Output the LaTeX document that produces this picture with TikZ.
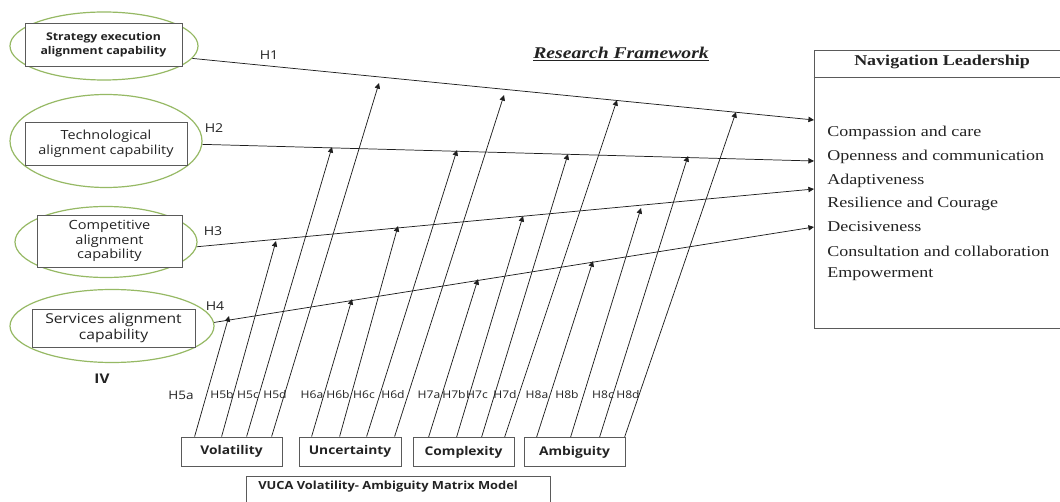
\documentclass[tikz,border=0pt]{standalone}
\usepackage{fontspec}
\setmainfont[FakeStretch=1.2]{Liberation Serif}
\newfontfamily\osans[FakeStretch=1.15]{Open Sans}
\usetikzlibrary{shapes.geometric,arrows.meta,calc}
\definecolor{ellgreen}{RGB}{150,185,100}
\definecolor{boxgray}{RGB}{90,90,90}
\definecolor{linec}{RGB}{30,30,30}
\definecolor{txt}{RGB}{35,35,35}
\begin{document}
\begin{tikzpicture}[x=0.75pt,y=-0.75pt,
  ell/.style={ellipse, draw=ellgreen, line width=0.9pt, inner sep=0pt},
  lbox/.style={rectangle, draw=boxgray, line width=0.6pt, fill=white, inner sep=0pt, align=center, text=txt},
  bbox/.style={rectangle, draw=boxgray, line width=0.6pt, fill=white, inner sep=0pt, minimum height=21.75pt, text=txt,
     font=\osans\bfseries\fontsize{9}{10}\selectfont},
  conn/.style={draw=linec, line width=0.55pt, -{Triangle[length=4.2pt,width=4pt]}},
  hlab/.style={text=txt, inner sep=0pt, font=\osans\fontsize{9.2}{10}\selectfont},
  slab/.style={text=txt, inner sep=0pt, font=\osans\fontsize{7.9}{9}\selectfont},
  item/.style={anchor=west, inner sep=0pt, text=txt, font=\fontsize{11.25}{13}\selectfont}]
\useasboundingbox (0,0) rectangle (1060,502);
\clip (0,0) rectangle (1060,502);
\fill[white] (0,0) rectangle (1060,502);

% title
\node[text=txt, inner sep=0pt, font=\fontsize{12.3}{14}\selectfont] (title) at (621,54) {\underline{\textbf{\textit{Research Framework}}}};

% left constructs
\node[ell, minimum width=141pt, minimum height=51pt] (e1) at (104,46) {};
\node[lbox, minimum width=117.75pt, minimum height=32.25pt, font=\osans\bfseries\fontsize{8}{10.5}\selectfont] (r1) at (103.5,44.5) {Strategy execution\\alignment capability};
\node[ell, minimum width=144pt, minimum height=69.75pt] (e2) at (106,141) {};
\node[lbox, minimum width=121.5pt, minimum height=32.25pt, font=\osans\fontsize{9.4}{11.25}\selectfont] (r2) at (106,143.5) {Technological\\alignment capability};
\node[ell, minimum width=136.5pt, minimum height=53.25pt] (e3) at (106,242) {};
\node[lbox, minimum width=108.75pt, minimum height=39pt, font=\osans\fontsize{9.5}{10.9}\selectfont] (r3) at (109.5,241) {Competitive\\alignment\\capability};
\node[ell, minimum width=153pt, minimum height=54.75pt] (e4) at (112,326) {};
\node[lbox, minimum width=122.25pt, minimum height=28.5pt, font=\osans\fontsize{10.2}{12}\selectfont] (r4) at (113.5,328) {Services alignment\\capability};
\node[text=txt, inner sep=0pt, font=\osans\bfseries\fontsize{10}{12}\selectfont] (iv) at (102,379) {IV};

% H labels
\node[hlab] (lh1) at (269,55) {H1};
\node[hlab] (lh2) at (214,128) {H2};
\node[hlab] (lh3) at (213,231) {H3};
\node[hlab] (lh4) at (215,306) {H4};

% right box
\node[rectangle, draw=boxgray, line width=0.6pt, minimum width=192pt, minimum height=208.5pt, inner sep=0pt] (nav) at (942,189) {};
\draw[boxgray, line width=0.6pt] ([yshift=-21pt]nav.north west) -- ([yshift=-21pt]nav.north east);
\node[text=txt, inner sep=0pt, font=\bfseries\fontsize{11.25}{13}\selectfont] (navh) at (942,62) {Navigation Leadership};
\node[item] (i1) at (827,133) {Compassion and care};
\node[item] (i2) at (827,157) {Openness and communication};
\node[item] (i3) at (827,181) {Adaptiveness};
\node[item] (i4) at (827,204) {Resilience and Courage};
\node[item] (i5) at (827,227) {Decisiveness};
\node[item] (i6) at (827,251) {Consultation and collaboration};
\node[item] (i7) at (827,274) {Empowerment};

\coordinate (t1) at (814,120);
\coordinate (t2) at (814,161);
\coordinate (t3) at (814,189);
\coordinate (t4) at (814,227);

% bottom boxes
\node[bbox, minimum width=75.75pt] (vol) at (231.5,451.5) {Volatility};
\node[bbox, minimum width=76.5pt] (unc) at (350,451.5) {Uncertainty};
\node[bbox, minimum width=75.75pt] (cpx) at (463.5,452) {Complexity};
\node[bbox, minimum width=75.75pt] (amb) at (574.5,452) {Ambiguity};
\node[rectangle, draw=boxgray, line width=0.6pt, minimum width=228pt, minimum height=29.25pt, inner sep=0pt] (vuca) at (398,495.5) {};
\node[anchor=west, inner sep=0pt, text=txt, font=\osans\bfseries\fontsize{8.4}{10}\selectfont] (vucat) at (258,487) {VUCA Volatility- Ambiguity Matrix Model};

% main hypothesis arrows
\draw[conn] (e1.-8) -- (t1);
\draw[conn] (e2.-2) -- (t2);
\draw[conn] (e3.-3) -- (t3);
\draw[conn] (e4.2) -- (t4);

% tip points
\coordinate (p5a) at (229,316); \coordinate (p5b) at (276,241); \coordinate (p5c) at (332,147); \coordinate (p5d) at (379,83);
\coordinate (p6a) at (352,299); \coordinate (p6b) at (398,226); \coordinate (p6c) at (457,150); \coordinate (p6d) at (504,95);
\coordinate (p7a) at (478,279); \coordinate (p7b) at (523,216); \coordinate (p7c) at (568,154); \coordinate (p7d) at (617,100);
\coordinate (p8a) at (593,261); \coordinate (p8b) at (641,208); \coordinate (p8c) at (688,156); \coordinate (p8d) at (736,112);

\draw[conn] ($(vol.north west)+(14,0)$) -- (p5a);
\draw[conn] ($(vol.north west)+(41,0)$) -- (p5b);
\draw[conn] ($(vol.north west)+(66,0)$) -- (p5c);
\draw[conn] ($(vol.north west)+(91,0)$) -- (p5d);
\draw[conn] ($(unc.north west)+(13,0)$) -- (p6a);
\draw[conn] ($(unc.north west)+(41,0)$) -- (p6b);
\draw[conn] ($(unc.north west)+(68,0)$) -- (p6c);
\draw[conn] ($(unc.north west)+(96,0)$) -- (p6d);
\draw[conn] ($(cpx.north west)+(16,0)$) -- (p7a);
\draw[conn] ($(cpx.north west)+(44,0)$) -- (p7b);
\draw[conn] ($(cpx.north west)+(69,0)$) -- (p7c);
\draw[conn] ($(cpx.north west)+(92,0)$) -- (p7d);
\draw[conn] ($(amb.north west)+(13,0)$) -- (p8a);
\draw[conn] ($(amb.north west)+(47,0)$) -- (p8b);
\draw[conn] ($(amb.north west)+(76,0)$) -- (p8c);
\draw[conn] ($(amb.north west)+(101,0)$) -- (p8d);

% sub-hypothesis labels
\node[slab, font=\osans\fontsize{8.8}{10}\selectfont] (l5a) at (181,395) {H5a};
\node[slab] (l5b) at (222,395) {H5b};
\node[slab] (l5c) at (248,395) {H5c};
\node[slab] (l5d) at (275,395) {H5d};
\node[slab] (l6a) at (312,395) {H6a};
\node[slab] (l6b) at (338,395) {H6b};
\node[slab] (l6c) at (364,395) {H6c};
\node[slab] (l6d) at (393,395) {H6d};
\node[slab] (l7a) at (429,395) {H7a};
\node[slab] (l7b) at (454,395) {H7b};
\node[slab] (l7c) at (477,395) {H7c};
\node[slab] (l7d) at (505,395) {H7d};
\node[slab] (l8a) at (537,395) {H8a};
\node[slab] (l8b) at (567,395) {H8b};
\node[slab] (l8c) at (603,395) {H8c};
\node[slab] (l8d) at (628,395) {H8d};
\end{tikzpicture}
\end{document}
